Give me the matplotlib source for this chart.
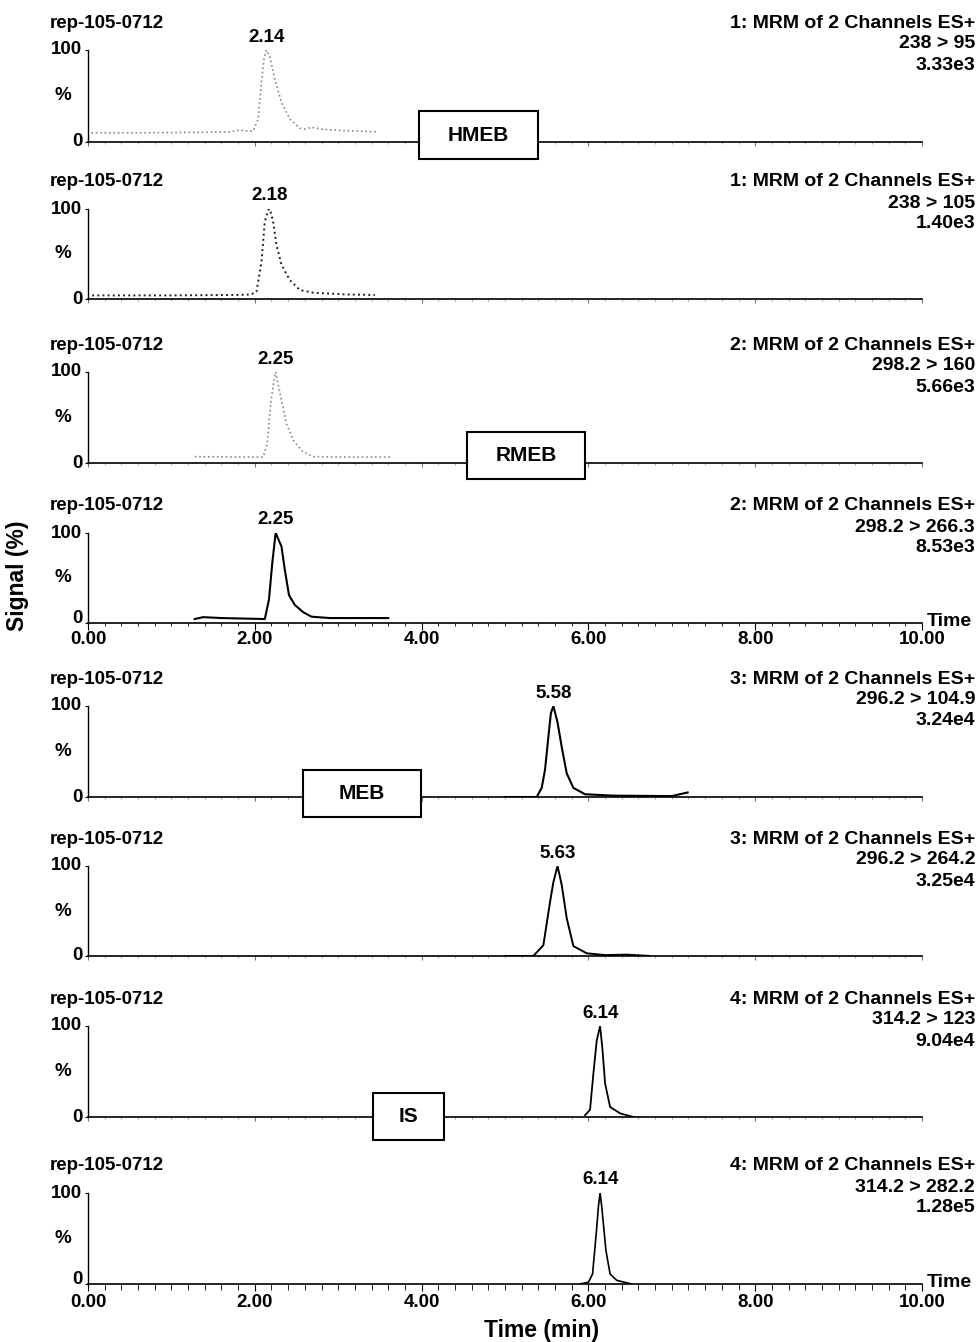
import matplotlib
matplotlib.use("Agg")
import matplotlib.pyplot as plt
from matplotlib.patches import Rectangle
from matplotlib.ticker import MultipleLocator

plt.rcParams["font.family"] = ["Liberation Sans", "DejaVu Sans"]
plt.rcParams["font.weight"] = "bold"

SAMPLE = "rep-105-0712"

# channel headers (function, transition, intensity)
functions = ["1", "1", "2", "2", "3", "3", "4", "4"]
transitions = ["238 > 95", "238 > 105", "298.2 > 160", "298.2 > 266.3",
               "296.2 > 104.9", "296.2 > 264.2", "314.2 > 123", "314.2 > 282.2"]
intensities = ["3.33e3", "1.40e3", "5.66e3", "8.53e3",
               "3.24e4", "3.25e4", "9.04e4", "1.28e5"]
peak_labels = ["2.14", "2.18", "2.25", "2.25", "5.58", "5.63", "6.14", "6.14"]

# traces: time (min) / relative signal (%)
hmeb_95_t = [0.04, 0.6, 1.34, 1.7, 1.82, 1.90, 1.98, 2.04, 2.08, 2.11, 2.14, 2.18,
             2.24, 2.32, 2.42, 2.54, 2.60, 2.68, 2.80, 2.94, 3.2, 3.46]
hmeb_95_y = [10, 10, 10.5, 11, 13, 12, 12, 25, 65, 90, 100, 93,
             68, 43, 25, 15, 14, 16, 14, 13, 12, 11]

hmeb_105_t = [0.05, 1.0, 1.8, 1.95, 2.02, 2.08, 2.12, 2.16, 2.18, 2.22, 2.26,
              2.32, 2.42, 2.54, 2.70, 3.1, 3.44]
hmeb_105_y = [4, 4, 4.5, 5, 8, 41, 86, 99, 100, 86, 60, 38, 21, 10, 7, 5, 4.5]

rmeb_160_t = [1.28, 1.8, 2.10, 2.15, 2.19, 2.23, 2.25, 2.32, 2.38, 2.46, 2.58,
              2.70, 3.0, 3.62]
rmeb_160_y = [7, 6.5, 6.5, 22, 65, 91, 100, 69, 43, 25, 12, 7, 6.5, 6.5]

rmeb_266_t = [1.28, 1.38, 1.6, 2.12, 2.17, 2.21, 2.25, 2.32, 2.36, 2.41, 2.48,
              2.58, 2.68, 2.90, 3.60]
rmeb_266_y = [4.4, 6.5, 5.5, 4.4, 26, 67, 100, 85, 59, 31, 20, 12, 7, 5.5, 5.5]

meb_105_t = [5.0, 5.38, 5.44, 5.48, 5.52, 5.55, 5.58, 5.63, 5.68, 5.74, 5.82,
             5.96, 6.3, 7.0, 7.19]
meb_105_y = [0, 0, 10, 30, 66, 92, 100, 82, 55, 26, 10, 3, 1.5, 1, 5]

meb_264_t = [5.0, 5.34, 5.46, 5.54, 5.58, 5.63, 5.68, 5.74, 5.82, 5.98, 6.2,
             6.46, 6.74]
meb_264_y = [0, 0, 12, 60, 82, 100, 79, 42, 11, 3, 1, 1.5, 0]

is_123_t = [5.96, 6.02, 6.06, 6.10, 6.14, 6.17, 6.20, 6.26, 6.38, 6.54]
is_123_y = [2, 8, 48, 84, 100, 73, 37, 11, 4, 0]

is_282_t = [5.9, 6.0, 6.05, 6.10, 6.12, 6.14, 6.16, 6.21, 6.26, 6.34, 6.52]
is_282_y = [0, 2, 11, 62, 85, 100, 85, 37, 11, 4, 0]

traces = [(hmeb_95_t, hmeb_95_y), (hmeb_105_t, hmeb_105_y),
          (rmeb_160_t, rmeb_160_y), (rmeb_266_t, rmeb_266_y),
          (meb_105_t, meb_105_y), (meb_264_t, meb_264_y),
          (is_123_t, is_123_y), (is_282_t, is_282_y)]

W, H = 977, 1342
# axes top (100 %) and bottom (0 %) in pixels
panel_px = [(50, 142), (209, 299), (372, 463), (533, 623),
            (706, 797), (866, 956), (1026, 1117), (1193, 1284)]
X0, X1 = 88, 922

FS = 13.5

line_styles = [dict(color="#8a8a8a", ls=":", lw=1.2),
               dict(color="#222222", ls=":", lw=1.4),
               dict(color="#8a8a8a", ls=":", lw=1.2),
               dict(color="black", ls="-", lw=1.5),
               dict(color="black", ls="-", lw=1.5),
               dict(color="black", ls="-", lw=1.4),
               dict(color="black", ls="-", lw=1.3),
               dict(color="black", ls="-", lw=1.2)]

# compound boxes: panel index -> (label, t0, t1, y0, y1)
boxes = {0: ("HMEB", 3.97, 5.40, -19, 34),
         2: ("RMEB", 4.54, 5.96, -18, 34),
         4: ("MEB", 2.58, 3.99, -22, 30),
         6: ("IS", 3.42, 4.27, -25, 26)}


def fx(x):
    return x / W


def fy(y):
    return 1 - y / H


fig = plt.figure(figsize=(W / 100, H / 100), dpi=100)

for i, (top, bot) in enumerate(panel_px):
    ax = fig.add_axes([fx(X0), fy(bot), fx(X1) - fx(X0), (bot - top) / H])
    t, y = traces[i]
    ax.plot(t, y, **line_styles[i])
    ax.set_xlim(0, 10)
    ax.set_ylim(0, 100)
    for s in ("top", "right"):
        ax.spines[s].set_visible(False)
    ax.spines["left"].set_linewidth(1.0)
    ax.spines["bottom"].set_linewidth(1.2)
    labelled = i in (3, 7)

    # y axis: ticks at 0 / 100, labels drawn as text so "0" can clear the time labels
    ax.set_yticks([0, 100])
    ax.set_yticklabels([])
    ax.tick_params(axis="y", length=2)
    ytr = ax.get_yaxis_transform()
    ax.text(-0.007, 100, "100", transform=ytr, ha="right", va="center",
            fontsize=FS, fontweight="bold")
    ax.text(-0.007, 5 if labelled else 0, "0", transform=ytr, ha="right",
            va="center", fontsize=FS, fontweight="bold")
    ax.text(-0.02, 50, "%", transform=ytr, ha="right",
            va="center", fontsize=FS, fontweight="bold")

    ax.xaxis.set_major_locator(MultipleLocator(2))
    ax.xaxis.set_minor_locator(MultipleLocator(0.2))
    if labelled:
        ax.set_xticklabels([f"{v:.2f}" for v in ax.get_xticks()],
                           fontsize=FS, fontweight="bold")
        ax.tick_params(axis="x", which="major", length=5, pad=2 if i == 7 else 1)
        ax.tick_params(axis="x", which="minor", length=4 if i == 7 else 2)
        ax.text(1.006, 0.02, "Time", transform=ax.transAxes, ha="left",
                va="center", fontsize=FS + 0.5, fontweight="bold")
    else:
        ax.set_xticklabels([])
        ax.tick_params(axis="x", which="major", length=3, color="#777777")
        ax.tick_params(axis="x", which="minor", length=1.5, color="#999999")

    # peak label
    k = max(range(len(y)), key=lambda j: y[j])
    ax.annotate(peak_labels[i], (t[k], y[k]), xytext=(0, 13),
                textcoords="offset pixels", ha="center", va="center",
                fontsize=FS, fontweight="bold", annotation_clip=False)

    if i in boxes:
        lab, b0, b1, c0, c1 = boxes[i]
        ax.add_patch(Rectangle((b0, c0), b1 - b0, c1 - c0, facecolor="white",
                               edgecolor="black", lw=1.5, clip_on=False, zorder=5))
        ax.text((b0 + b1) / 2, (c0 + c1) / 2, lab, ha="center", va="center",
                fontsize=15, fontweight="bold", zorder=6)

    # headers
    fig.text(fx(50), fy(top - 27), SAMPLE, ha="left", va="center",
             fontsize=FS, fontweight="bold")
    header = [f"{functions[i]}: MRM of 2 Channels ES+", transitions[i], intensities[i]]
    for j, line in enumerate(header):
        fig.text(fx(975), fy(top - 27 + 21 * j), line, ha="right", va="center",
                 fontsize=14, fontweight="bold")

fig.text(fx(18), fy(576), "Signal (%)", rotation=90, ha="center", va="center",
         fontsize=16.5, fontweight="bold")
fig.text(fx(542), fy(1330), "Time (min)", ha="center", va="center",
         fontsize=16.5, fontweight="bold")

fig.savefig("out.png", dpi=100)
